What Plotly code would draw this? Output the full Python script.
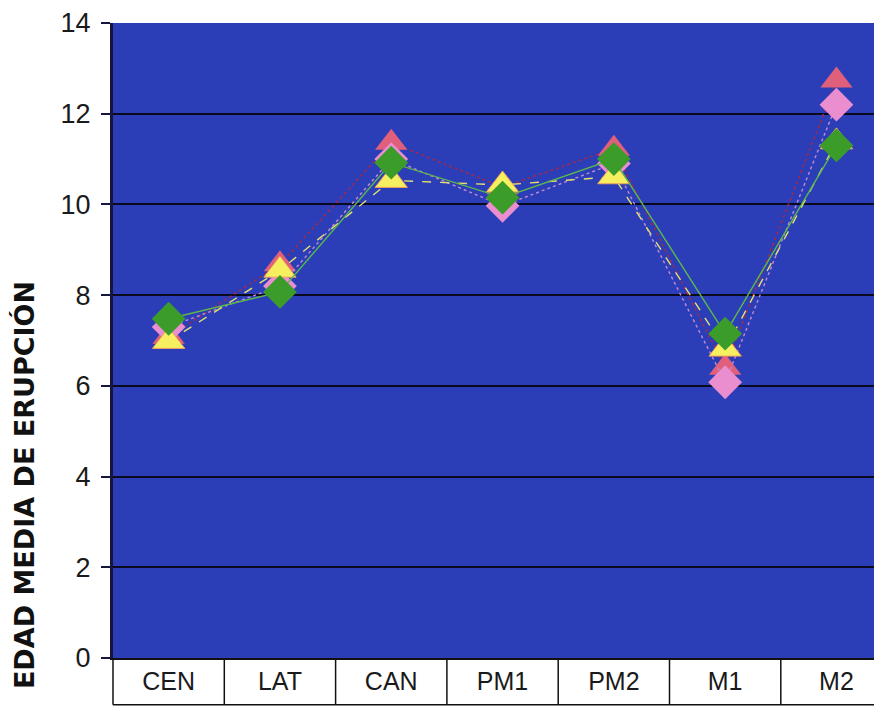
import plotly.graph_objects as go

categories = ["CEN", "LAT", "CAN", "PM1", "PM2", "M1", "M2"]
serie_roja = [7.08, 8.68, 11.36, 10.38, 11.23, 6.40, 12.73]
serie_rosa = [7.30, 8.20, 11.00, 9.97, 10.90, 6.08, 12.20]
serie_amarilla = [6.98, 8.55, 10.53, 10.43, 10.61, 6.81, 11.38]
serie_verde = [7.48, 8.07, 10.92, 10.15, 11.00, 7.15, 11.30]
y_ticks = [0, 2, 4, 6, 8, 10, 12, 14]
y_title = "EDAD MEDIA DE ERUPCIÓN"

# the page body adds an 8px offset; margins are given in figure coordinates
OFF = 8
W, H = 882, 708
ML, MR, MT = 113 - OFF, 0, 19 - OFF
PLOT_BOTTOM = 658 - OFF
MB = H - PLOT_BOTTOM
XMIN = -0.5
CAT_W = 111.3
XMAX = XMIN + (W - ML - MR) / CAT_W

fig = go.Figure()

series = [
    (serie_roja, "triangle-up", 28, "#e0607c", "#e0607c", 0, "#a0284e", "dot", 1.6),
    (serie_rosa, "diamond", 26, "#ea8ed0", "#ea8ed0", 0, "#c48ad0", "dot", 1.4),
    (serie_amarilla, "triangle-up", 28, "#f6f060", "#f0a060", 1, "#e4e070", "dash", 1.4),
    (serie_verde, "diamond", 26, "#3c9c2a", "#3c9c2a", 0, "#5cb84c", "solid", 1.4),
]
for vals, sym, size, mcol, mlc, mlw, lcol, dash, lw in series:
    fig.add_trace(go.Scatter(
        x=categories, y=vals, mode="lines+markers",
        line=dict(color=lcol, width=lw, dash=dash),
        marker=dict(symbol=sym, size=size, color=mcol, line=dict(width=mlw, color=mlc)),
        showlegend=False, hoverinfo="skip",
    ))

# table under the plot: vertical separators at category boundaries
shapes = []
span = XMAX - XMIN
plot_h = H - MT - MB
tbl_bottom = -(705 - 658) / plot_h
for i in range(len(categories) + 1):
    xp = (i - 0.5 - XMIN) / span
    if xp <= 1.0:
        shapes.append(dict(type="line", xref="paper", yref="paper",
                           x0=xp, x1=xp, y0=0, y1=tbl_bottom,
                           line=dict(color="#111111", width=1.5)))
shapes.append(dict(type="line", xref="paper", yref="paper",
                   x0=0, x1=1, y0=tbl_bottom, y1=tbl_bottom,
                   line=dict(color="#111111", width=1.5)))

fig.update_layout(
    width=W, height=H,
    margin=dict(l=ML, r=MR, t=MT, b=MB, pad=0),
    paper_bgcolor="white",
    plot_bgcolor="#2b3eb8",
    shapes=shapes,
    xaxis=dict(
        type="category", range=[XMIN, XMAX],
        showgrid=False, zeroline=False, ticks="",
        showline=True, linecolor="#111111", linewidth=1.5, mirror=False,
        tickfont=dict(family="Liberation Sans, Arial", size=25, color="#1a1a1a"),
        ticklabelstandoff=0, ticklabeloverflow="allow",
    ),
    yaxis=dict(
        range=[0, 14], tickvals=y_ticks,
        showgrid=True, gridcolor="#0a0a1e", gridwidth=2,
        zeroline=False,
        showline=True, linecolor="#151540", linewidth=3,
        ticks="outside", ticklen=9, tickwidth=2, tickcolor="#151540",
        tickfont=dict(family="Liberation Sans, Arial", size=27, color="#1a1a1a"),
        ticklabelstandoff=5, ticklabeloverflow="allow",
    ),
    annotations=[dict(
        text="<b>" + y_title + "</b>", textangle=-90, showarrow=False,
        xref="paper", yref="paper",
        x=(24 - OFF - ML) / (W - ML - MR), y=(658 - 484) / plot_h,
        xanchor="center", yanchor="middle",
        font=dict(family="DejaVu Sans", size=27, color="#111111"),
    )],
)

fig.write_html("out.html")
